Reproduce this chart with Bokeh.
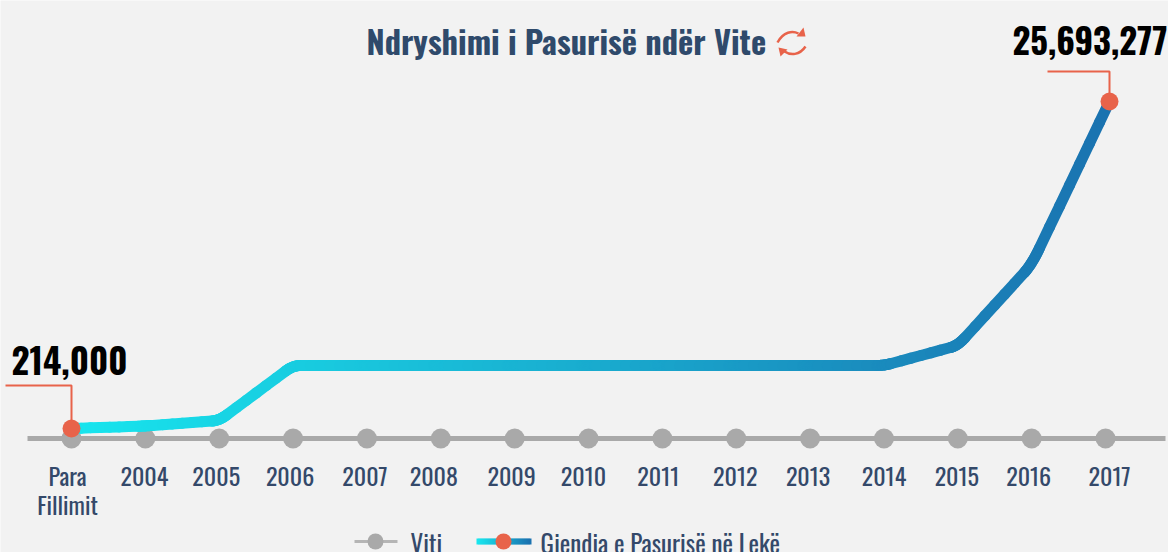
from bokeh.plotting import figure
from bokeh.models import Range1d, Label
from bokeh.embed import file_html
from bokeh.resources import INLINE
from bokeh.core.properties import value

categories = ["Para\nFillimit","2004","2005","2006","2007","2008","2009","2010","2011","2012","2013","2014","2015","2016","2017"]
wealth = [214000,410000,837000,5123000,5123000,5123000,5123000,5123000,5123000,5123000,5123000,5123000,6680000,12993000,25693277]
legend_axis = "Viti"
legend_line = "Gjendja e Pasurisë në Lekë"
title = "Ndryshimi i Pasurisë ndër Vite"

W, H = 1168, 552
PX_X = 73.86
X0 = 71
PX_V = 77918.0
def vpx(y): return 214000 + (428 - y) * PX_V
def xpx(x): return (x - X0) / PX_X

FONT = "Oswald"
p = figure(width=W, height=H, x_range=Range1d(xpx(0), xpx(W)), y_range=Range1d(vpx(H), vpx(0)),
           output_backend="svg", toolbar_location=None, min_border=0,
           background_fill_color="#f2f2f2", border_fill_color="#f2f2f2", outline_line_color=None,
           styles={"position":"absolute","left":"0px","top":"0px"})
p.axis.visible = False
p.grid.visible = False

# baseline
idx = list(range(len(categories)))
base = vpx(438)
p.segment(xpx(27), base, xpx(1165), base, line_color="#a9a9a9", line_width=5)
p.scatter(idx, [base]*len(idx), size=20, color="#a9a9a9", line_color=None)

# straight line with slightly rounded corners, gradient along x
line_x = idx[:-1] + [xpx(1109)]
pts = list(zip(line_x, wealth))
F = 0.1
xs, ys = [pts[0][0]], [pts[0][1]]
for i in range(1, len(pts)-1):
    a, b, c = pts[i-1], pts[i], pts[i+1]
    s = (b[0]-F*(b[0]-a[0]), b[1]-F*(b[1]-a[1]))
    e = (b[0]+F*(c[0]-b[0]), b[1]+F*(c[1]-b[1]))
    for k in range(13):
        t = k/12
        m = 1-t
        xs.append(m*m*s[0]+2*m*t*b[0]+t*t*e[0])
        ys.append(m*m*s[1]+2*m*t*b[1]+t*t*e[1])
xs.append(pts[-1][0]); ys.append(pts[-1][1])
c0, c1_ = (0x18,0xe6,0xee), (0x1a,0x72,0xb0)
def grad(f):
    return "#%02x%02x%02x" % tuple(round(u+(v-u)*f) for u,v in zip(c0,c1_))
sx, sy = [], []
for i in range(len(xs)-1):
    steps = max(1, int((xs[i+1]-xs[i])*8))
    for k in range(steps):
        sx.append(xs[i]+(xs[i+1]-xs[i])*k/steps)
        sy.append(ys[i]+(ys[i+1]-ys[i])*k/steps)
sx.append(xs[-1]); sy.append(ys[-1])
n = len(sx)-1
p.segment(sx[:-1], sy[:-1], sx[1:], sy[1:], line_width=11, line_cap="round",
          line_color=[grad(((sx[i]+sx[i+1])/2)/sx[-1]) for i in range(n)])

# leader lines
accent = "#e8634a"
p.line([xpx(5), xpx(71), 0], [vpx(385), vpx(385), wealth[0]], line_color=accent, line_width=2)
p.line([xpx(1047), xpx(1109), line_x[-1]], [vpx(71), vpx(71), wealth[-1]], line_color=accent, line_width=2)
p.scatter([0, line_x[-1]], [wealth[0], wealth[-1]], size=18, color=accent, line_color=None)

# tick labels
label_dx = [-4,-1,-3,-3,-2,-7,-3,-5,-4,-1,-2,0,-1,-3,4]
label_dy = [18]+[28]*14
p.text(idx, [base]*len(idx), text=categories, x_offset=label_dx, y_offset=label_dy,
       text_align="center", text_baseline="top", text_font=value(FONT), text_font_size="24px",
       text_color="#34496a", text_line_height=0.83)

p.add_layout(Label(x=366, y=H-39, x_units="screen", y_units="screen", text=title, text_font=FONT,
    text_font_size="32.4px", text_font_style="bold", text_color="#2f4a6b", text_baseline="middle"))
p.add_layout(Label(x=11, y=H-360, x_units="screen", y_units="screen", text="214,000", text_font=FONT,
    text_font_size="35px", text_font_style="bold", text_color="#000000", text_baseline="middle"))
p.add_layout(Label(x=1012, y=H-40, x_units="screen", y_units="screen", text="25,693,277", text_font=FONT,
    text_font_size="34.7px", text_font_style="bold", text_color="#000000", text_baseline="middle"))
p.add_layout(Label(x=410, y=H-542, x_units="screen", y_units="screen", text=legend_axis, text_font=FONT,
    text_font_size="25px", text_color="#34496a", text_baseline="middle"))
p.add_layout(Label(x=540, y=H-542, x_units="screen", y_units="screen", text=legend_line, text_font=FONT,
    text_font_size="25px", text_color="#34496a", text_baseline="middle"))

# legend keys
ly = vpx(541)
p.line([xpx(354), xpx(397)], [ly, ly], line_color="#b5b5b5", line_width=3)
p.scatter([xpx(375)], [ly], size=16, color="#a9a9a9", line_color=None)
kp = [476+i*2 for i in range(27)]
p.segment([xpx(a) for a in kp], [ly]*27, [xpx(a+3) for a in kp], [ly]*27, line_width=6,
          line_color=[grad(i/26) for i in range(27)])
p.scatter([xpx(503)], [ly], size=16, color=accent, line_color=None)

# refresh icon
p.bezier(x0=[xpx(777)], y0=[vpx(42)], x1=[xpx(798)], y1=[vpx(33)], cx0=[xpx(783)], cy0=[vpx(31)], cx1=[xpx(792)], cy1=[vpx(30)],
         line_color=accent, line_width=2.5)
p.bezier(x0=[xpx(805)], y0=[vpx(46)], x1=[xpx(784)], y1=[vpx(51)], cx0=[xpx(799)], cy0=[vpx(55)], cx1=[xpx(790)], cy1=[vpx(55)],
         line_color=accent, line_width=2.5)
p.patches([[xpx(796), xpx(805), xpx(803)], [xpx(778), xpx(787), xpx(780)]],
          [[vpx(36), vpx(36), vpx(27)], [vpx(47), vpx(49), vpx(56)]], color=accent, line_color=None)

open("out.html", "w").write(file_html(p, INLINE))
